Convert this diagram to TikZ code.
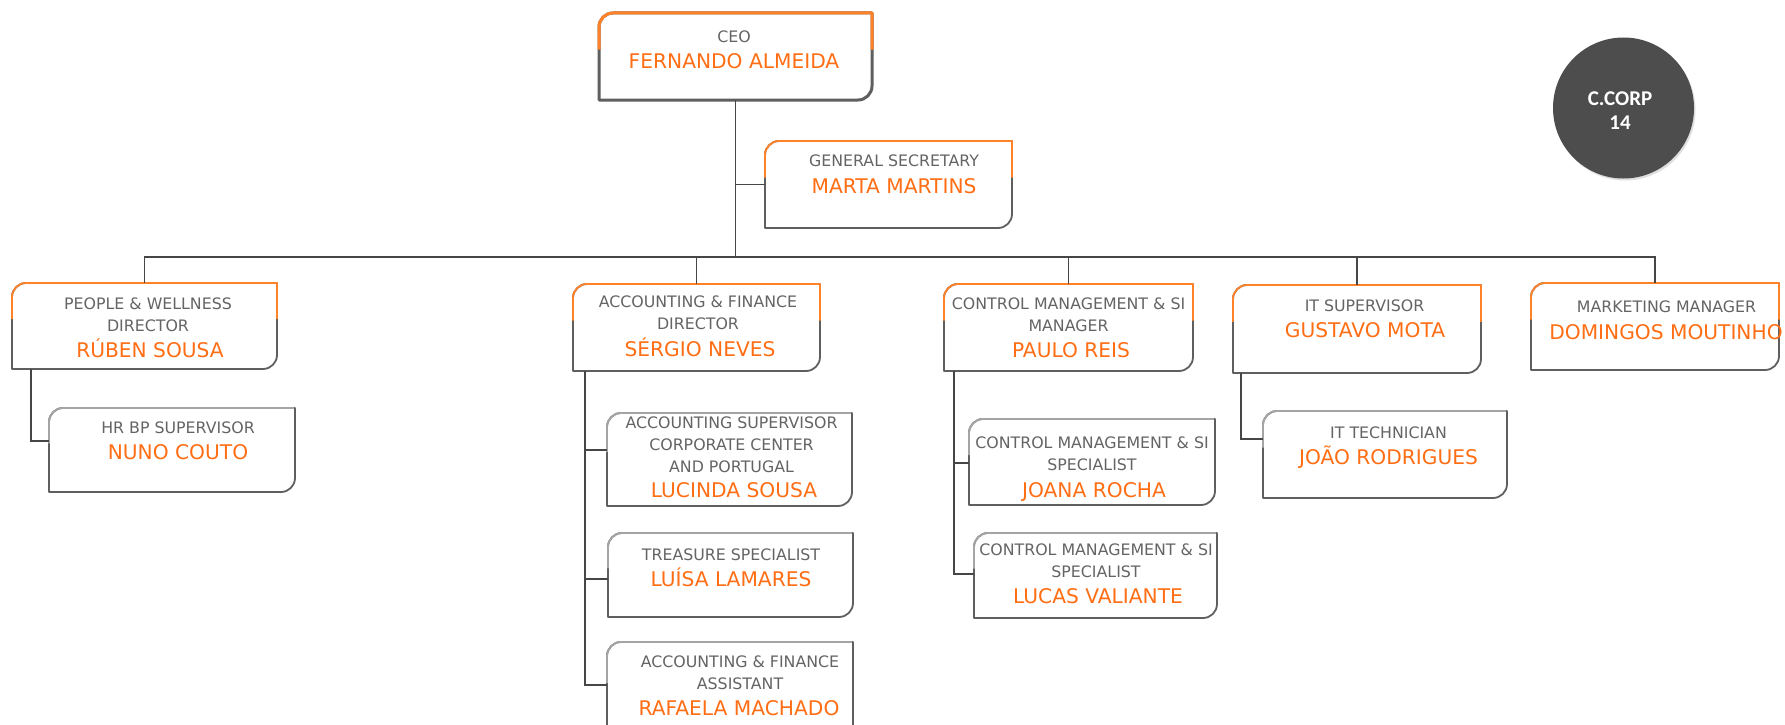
\documentclass[tikz,border=0pt]{standalone}
\usepackage{fontspec}
\setmainfont{DejaVu Sans}
\newfontfamily\circfont{Carlito}
\usetikzlibrary{fit,shadows}
\definecolor{org}{RGB}{255,110,20}
\definecolor{borg}{RGB}{255,130,40}
\definecolor{tgray}{RGB}{100,100,100}
\definecolor{bgray}{RGB}{95,95,95}
\definecolor{ltgray}{RGB}{165,165,165}
\definecolor{lgray}{RGB}{70,70,70}
\definecolor{circ}{RGB}{77,77,77}
\tikzset{
  conn/.style={draw=lgray, line width=1.4pt},
  boxnode/.style={inner sep=0pt, draw=none},
  titletext/.style={text=tgray, align=center, font=\fontsize{15.8}{22}\selectfont, inner sep=0pt},
  nametext/.style={text=org, anchor=base, font=\fontsize{20.2}{24}\selectfont, inner sep=0pt},
}
\newcommand\boxr{14}
% main box: orange top part
\newcommand\orgbox[6]{%
  \node[boxnode, fit={(#2,#3) (#4,#5)}] (#1) {};
  \draw[bgray, line width=#6, line join=round] (#2,#3+\boxr) -- (#2,#5) -- (#4-\boxr,#5) .. controls (#4-0.45*\boxr,#5) and (#4,#5-0.45*\boxr) .. (#4,#5-\boxr) -- (#4,#3) -- (#2+\boxr,#3) .. controls (#2+0.45*\boxr,#3) and (#2,#3+0.45*\boxr) .. (#2,#3+\boxr) -- cycle;
  \draw[borg, line width=#6, line join=round] (#2,{#3+0.42*(#5-#3)}) -- (#2,#3+\boxr) .. controls (#2,#3+0.45*\boxr) and (#2+0.45*\boxr,#3) .. (#2+\boxr,#3) -- (#4,#3) -- (#4,{#3+0.42*(#5-#3)});
}
% sub box: light gray top-left, dark gray right-bottom
\newcommand\subbox[5]{%
  \node[boxnode, fit={(#2,#3) (#4,#5)}] (#1) {};
  \draw[bgray, line width=1.8pt, line join=round] (#2,#3+\boxr) -- (#2,#5) -- (#4-\boxr,#5) .. controls (#4-0.45*\boxr,#5) and (#4,#5-0.45*\boxr) .. (#4,#5-\boxr) -- (#4,#3) -- (#2+\boxr,#3) .. controls (#2+0.45*\boxr,#3) and (#2,#3+0.45*\boxr) .. (#2,#3+\boxr) -- cycle;
  \draw[ltgray, line width=1.8pt, line join=round] (#2,{#3+0.42*(#5-#3)}) -- (#2,#3+\boxr) .. controls (#2,#3+0.45*\boxr) and (#2+0.45*\boxr,#3) .. (#2+\boxr,#3) -- (#4-1,#3);
}
\begin{document}
\begin{tikzpicture}[x=1pt,y=-1pt]
\useasboundingbox (0,0) rectangle (1785,725);
\fill[white] (0,0) rectangle (1785,725);

% boxes
\orgbox{ceo}{599}{13}{872}{100}{3pt}
\orgbox{gensec}{765}{141}{1012}{228}{1.8pt}
\orgbox{people}{12}{283}{277}{369}{1.8pt}
\subbox{hr}{49}{408}{295}{492}
\orgbox{acct}{573}{284}{820}{371}{1.8pt}
\subbox{lucinda}{607}{413}{852}{506}
\subbox{luisa}{608}{533}{853}{617}
\subbox{rafaela}{607}{642}{853}{740}
\orgbox{control}{944}{284}{1193}{371}{1.8pt}
\subbox{joana}{969}{419}{1215}{505}
\subbox{lucas}{974}{533}{1217}{618}
\orgbox{itsup}{1233}{285}{1481}{373}{1.8pt}
\subbox{joao}{1263}{411}{1507}{498}
\orgbox{mkt}{1531}{283}{1779}{370}{1.8pt}

% connectors
\coordinate (bus) at (0,257);
\coordinate (sp1) at (31,0);
\coordinate (sp2) at (585,0);
\coordinate (sp3) at (954,0);
\coordinate (sp4) at (1241,0);
\draw[conn] (ceo.south) -- (ceo.south |- bus);
\draw[conn] (ceo.south |- gensec.west) -- (gensec.west);
\draw[conn] (people.north) -- (people.north |- bus) -- (mkt.north |- bus) -- (mkt.north);
\draw[conn] (acct.north) -- (acct.north |- bus);
\draw[conn] (control.north) -- (control.north |- bus);
\draw[conn] (itsup.north) -- (itsup.north |- bus);

\path ([yshift=9pt]hr.west) coordinate (hrc);
\draw[conn] (people.south -| sp1) |- (hrc);

\path ([yshift=9.5pt]lucinda.west) coordinate (luc);
\path ([yshift=-4pt]luisa.west) coordinate (lsc);
\path ([yshift=6pt]rafaela.west) coordinate (rac);
\draw[conn] (acct.south -| sp2) |- (rac);
\draw[conn] (luc) -- (luc -| sp2);
\draw[conn] (lsc) -- (lsc -| sp2);

\path ([yshift=-1pt]joana.west) coordinate (joc);
\path ([yshift=1.5pt]lucas.west) coordinate (lcc);
\draw[conn] (control.south -| sp3) |- (lcc);
\draw[conn] (joc) -- (joc -| sp3);

\path ([yshift=15.5pt]joao.west) coordinate (jrc);
\draw[conn] (itsup.south -| sp4) |- (jrc);

% texts
\node[titletext] (ceoT) at (734,37) {CEO};
\node[nametext] (ceoN) at (734,68.4) {FERNANDO ALMEIDA};
\node[titletext] (gensecT) at (894,161) {GENERAL SECRETARY};
\node[nametext] (gensecN) at (894,193.4) {MARTA MARTINS};
\node[titletext] (peopleT) at (148,314.25) {PEOPLE \& WELLNESS\\DIRECTOR};
\node[nametext] (peopleN) at (150,357.9) {RÚBEN SOUSA};
\node[titletext] (hrT) at (178,427.5) {HR BP SUPERVISOR};
\node[nametext] (hrN) at (178,459.9) {NUNO COUTO};
\node[titletext] (acctT) at (698,313) {ACCOUNTING \& FINANCE\\DIRECTOR};
\node[nametext] (acctN) at (700,356.9) {SÉRGIO NEVES};
\node[titletext] (lucindaT) at (731.5,445) {ACCOUNTING SUPERVISOR\\CORPORATE CENTER\\AND PORTUGAL};
\node[nametext] (lucindaN) at (734,497.4) {LUCINDA SOUSA};
\node[titletext] (luisaT) at (731,554.5) {TREASURE SPECIALIST};
\node[nametext] (luisaN) at (731,586.4) {LUÍSA LAMARES};
\node[titletext] (rafaelaT) at (740,672.5) {ACCOUNTING \& FINANCE\\ASSISTANT};
\node[nametext] (rafaelaN) at (739,715.9) {RAFAELA MACHADO};
\node[titletext] (controlT) at (1068.5,314.25) {CONTROL MANAGEMENT \& SI\\MANAGER};
\node[nametext] (controlN) at (1071,357.9) {PAULO REIS};
\node[titletext] (joanaT) at (1092,454) {CONTROL MANAGEMENT \& SI\\SPECIALIST};
\node[nametext] (joanaN) at (1094,497.4) {JOANA ROCHA};
\node[titletext] (lucasT) at (1096,560.75) {CONTROL MANAGEMENT \& SI\\SPECIALIST};
\node[nametext] (lucasN) at (1098,603.9) {LUCAS VALIANTE};
\node[titletext] (itsupT) at (1364.5,305.5) {IT SUPERVISOR};
\node[nametext] (itsupN) at (1365,337.9) {GUSTAVO MOTA};
\node[titletext] (joaoT) at (1388.5,432.5) {IT TECHNICIAN};
\node[nametext] (joaoN) at (1388.5,464.9) {JOÃO RODRIGUES};
\node[titletext] (mktT) at (1666.5,306.5) {MARKETING MANAGER};
\node[nametext] (mktN) at (1666,339.9) {DOMINGOS MOUTINHO};

% circle
\node[circle, fill=circ, minimum size=141pt, inner sep=0pt, drop shadow={opacity=0.25,shadow xshift=1.5pt,shadow yshift=-2pt}] (corp) at (1623.5,108) {};
\node[text=white, align=center, inner sep=0pt, font=\circfont\bfseries\fontsize{21}{24.5}\selectfont] (corpT) at (1620,110.75) {C.CORP\\14};
\end{tikzpicture}
\end{document}
